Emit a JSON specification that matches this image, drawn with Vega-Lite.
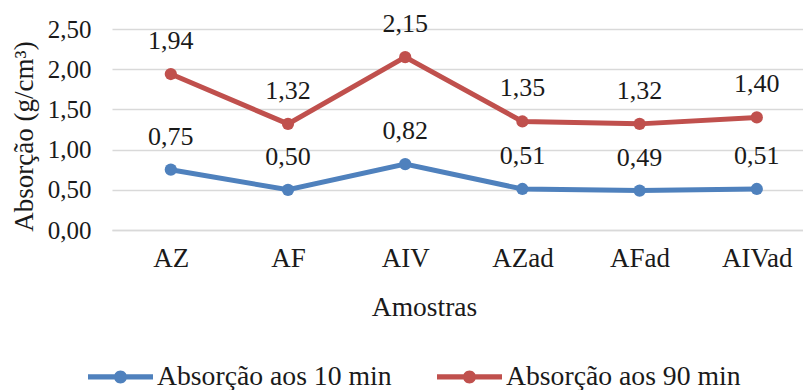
{
  "$schema": "https://vega.github.io/schema/vega-lite/v6.json",
  "width": 691,
  "height": 201,
  "autosize": {"type": "none"},
  "padding": {"left": 112, "top": 29, "right": 0, "bottom": 160},
  "background": "white",
  "config": {
    "locale": {"number": {"decimal": ",", "thousands": ".", "grouping": [3], "currency": ["R$", ""]}},
    "font": "Times New Roman, Liberation Serif, serif",
    "view": {"stroke": null},
    "axis": {"labelFont": "Times New Roman, Liberation Serif, serif", "titleFont": "Times New Roman, Liberation Serif, serif", "labelColor": "#1a1a1a", "titleColor": "#1a1a1a", "titleFontWeight": "normal"},
    "legend": {"labelFont": "Times New Roman, Liberation Serif, serif", "labelColor": "#1a1a1a"},
    "text": {"font": "Times New Roman, Liberation Serif, serif"}
  },
  "data": {
    "values": [
      {"amostra": "AZ", "serie": "Absorção aos 10 min", "absorcao": 0.75},
      {"amostra": "AF", "serie": "Absorção aos 10 min", "absorcao": 0.50},
      {"amostra": "AIV", "serie": "Absorção aos 10 min", "absorcao": 0.82},
      {"amostra": "AZad", "serie": "Absorção aos 10 min", "absorcao": 0.51},
      {"amostra": "AFad", "serie": "Absorção aos 10 min", "absorcao": 0.49},
      {"amostra": "AIVad", "serie": "Absorção aos 10 min", "absorcao": 0.51},
      {"amostra": "AZ", "serie": "Absorção aos 90 min", "absorcao": 1.94},
      {"amostra": "AF", "serie": "Absorção aos 90 min", "absorcao": 1.32},
      {"amostra": "AIV", "serie": "Absorção aos 90 min", "absorcao": 2.15},
      {"amostra": "AZad", "serie": "Absorção aos 90 min", "absorcao": 1.35},
      {"amostra": "AFad", "serie": "Absorção aos 90 min", "absorcao": 1.32},
      {"amostra": "AIVad", "serie": "Absorção aos 90 min", "absorcao": 1.40}
    ]
  },
  "encoding": {
    "x": {
      "field": "amostra",
      "type": "nominal",
      "sort": ["AZ", "AF", "AIV", "AZad", "AFad", "AIVad"],
      "scale": {"type": "point", "padding": 0.448, "align": 0.56},
      "axis": {
        "title": "Amostras",
        "titleFontSize": 27.5,
        "titleX": 312,
        "titleY": 77,
        "titleBaseline": "middle",
        "labelFontSize": 27,
        "labelAngle": 0,
        "labelBaseline": "middle",
        "labelPadding": 28,
        "ticks": false,
        "tickSize": 0,
        "domain": true,
        "domainColor": "#d9d9d9",
        "domainWidth": 1.5,
        "grid": false
      }
    },
    "y": {
      "field": "absorcao",
      "type": "quantitative",
      "scale": {"domain": [0, 2.5]},
      "axis": {
        "title": "Absorção (g/cm³)",
        "titleFontSize": 27,
        "titleX": -88,
        "titleY": 107,
        "titleAngle": -90,
        "titleAlign": "center",
        "titleBaseline": "middle",
        "values": [0, 0.5, 1, 1.5, 2, 2.5],
        "format": ".2f",
        "labelFontSize": 25,
        "labelPadding": 21,
        "ticks": false,
        "tickSize": 0,
        "domain": false,
        "grid": true,
        "gridColor": "#d9d9d9",
        "gridWidth": 1.5
      }
    },
    "color": {
      "field": "serie",
      "type": "nominal",
      "scale": {"domain": ["Absorção aos 10 min", "Absorção aos 90 min"], "range": ["#4f81bd", "#c0504d"]},
      "legend": {
        "title": null,
        "orient": "none",
        "direction": "horizontal",
        "legendX": -24,
        "legendY": 315,
        "symbolType": "M-1,-0.08H1V0.08H-1Z M-0.2,0A0.2,0.2 0 1,1 0.2,0A0.2,0.2 0 1,1 -0.2,0Z",
        "symbolSize": 4225,
        "symbolStrokeWidth": 0,
        "labelFontSize": 27.7,
        "labelLimit": 500,
        "labelOffset": 4,
        "columnPadding": 45,
        "encode": {
          "symbols": {"update": {"fill": {"scale": "color", "field": "value"}, "stroke": {"value": "transparent"}, "opacity": {"value": 1}}}
        }
      }
    }
  },
  "layer": [
    {
      "mark": {"type": "line", "strokeWidth": 5, "point": {"filled": true, "size": 150, "opacity": 1}}
    },
    {
      "mark": {"type": "text", "baseline": "middle", "dy": -33, "fontSize": 26, "color": "#1a1a1a", "font": "Times New Roman, Liberation Serif, serif"},
      "encoding": {
        "text": {"field": "absorcao", "type": "quantitative", "format": ".2f"},
        "color": {"value": "#1a1a1a"}
      }
    }
  ]
}
